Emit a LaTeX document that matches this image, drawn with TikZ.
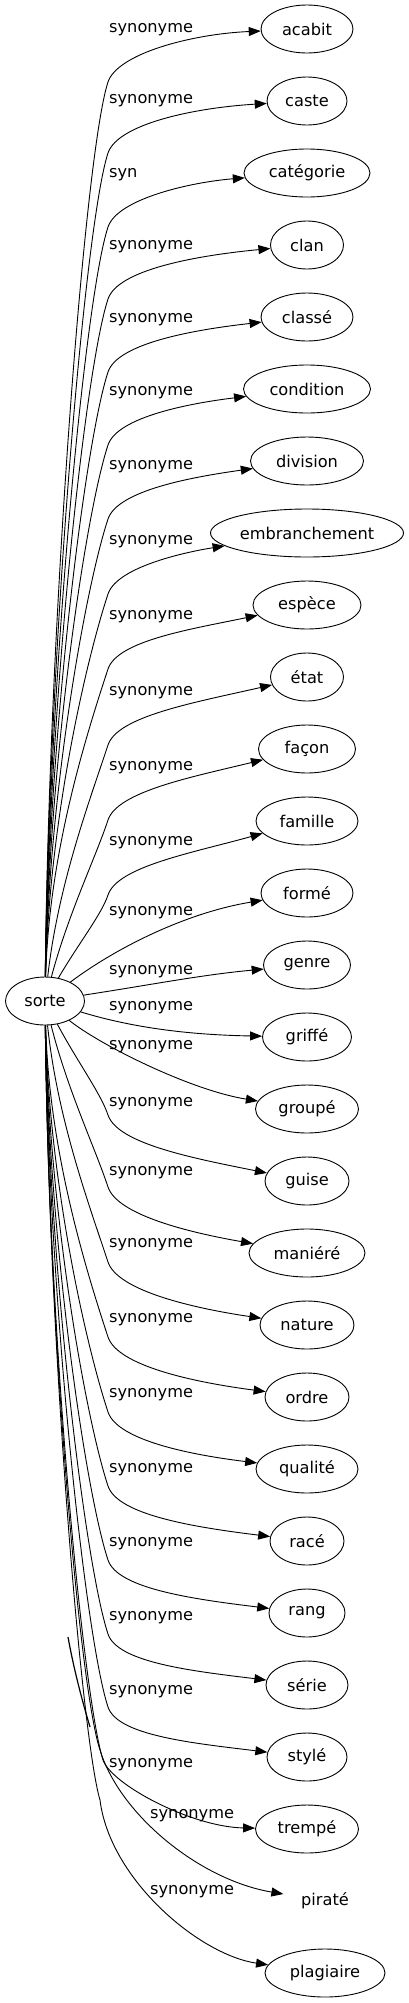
\documentclass[tikz,border=0pt]{standalone}
\usepackage{fontspec}
\setmainfont{DejaVu Sans}
\usetikzlibrary{shapes.geometric,arrows.meta}

\tikzset{
    term/.style={draw, ellipse, line width=0.9pt, minimum height=48pt, inner sep=0pt},
    tag/.style={anchor=west, inner sep=0pt},
    rel/.style={-{Triangle[length=12pt,width=9pt]}, line width=0.9pt}
}

\begin{document}
\begin{tikzpicture}[x=1pt, y=-1pt, font=\fontsize{16.2}{19}\selectfont]
    \useasboundingbox (0,0) rectangle (409,2003);

    % Source word
    \node[term, minimum width=79pt] (sorte) at (45,1001) {sorte};

    % Synonyms above the source
    \foreach \n/\txt/\w/\ly/\dc/\lab [count=\i from 0] in {
        acabit/acabit/92/30/5/synonyme, caste/caste/80/101/7/synonyme,
        categorie/catégorie/126/175/9/syn, clan/clan/73/247/11/synonyme,
        classe/classé/92/320/13/synonyme, condition/condition/127/393/14/synonyme,
        division/division/113/467/16/synonyme, embranchement/embranchement/193/542/18/synonyme,
        espece/espèce/108/617/24/synonyme, etat/état/73/693/26/synonyme,
        facon/façon/97/768/28/synonyme, famille/famille/102/843/32/synonyme}{
        \node[term, minimum width=\w pt] (\n) at (307,{29+72*\i}) {\txt};
        \node[tag] (lab-\n) at (109,\ly) {\lab};
        \pgfmathsetmacro\bendy{\ly+52}
        \pgfmathsetmacro\rise{977-\bendy}
        \pgfmathsetmacro\kfac{min(1,\rise/300)}
        \draw[rel] (sorte) .. controls +({4+40*(1-\kfac)},{-(24+0.4*\rise)}) and +({-23*\kfac},{70*\kfac}) .. (108,\bendy)
            .. controls +(9.5,-28.5) and +(-115,\dc) .. (\n);
    }

    % Synonyms level with the source
    \node[term, minimum width=92pt] (forme) at (307,893) {formé};
    \node[term, minimum width=87pt] (genre) at (307,965) {genre};
    \node[term, minimum width=89pt] (griffe) at (307,1037) {griffé};
    \node[term, minimum width=103pt] (groupe) at (307,1109) {groupé};
    \node[tag] (lab-forme) at (109,913) {synonyme};
    \node[tag] (lab-genre) at (109,972) {synonyme};
    \node[tag] (lab-griffe) at (109,1008) {synonyme};
    \node[tag] (lab-groupe) at (109,1047) {synonyme};
    \draw[rel] (sorte) .. controls (120,945) and (190,912) .. (forme);
    \draw[rel] (sorte) .. controls (150,985) and (200,975) .. (genre);
    \draw[rel] (sorte) .. controls (140,1030) and (200,1035) .. (griffe);
    \draw[rel] (sorte) .. controls (100,1045) and (190,1090) .. (groupe);

    % Synonyms below the source
    \foreach \n/\txt/\w/\bendy/\dc/\ly [count=\i from 16] in {
        guise/guise/84/1115/23/1104, maniere/maniéré/116/1187/20/1173,
        nature/nature/94/1262/17/1245, ordre/ordre/84/1337/15/1320,
        qualite/qualité/102/1412/14/1395, race/racé/74/1486/14/1470,
        rang/rang/76/1560/14/1544, serie/série/82/1634/14/1618,
        style/stylé/80/1707/14/1692}{
        \node[term, minimum width=\w pt] (\n) at (307,{29+72*\i}) {\txt};
        \node[tag] (lab-\n) at (109,\ly) {synonyme};
        \pgfmathsetmacro\rise{\bendy-1025}
        \pgfmathsetmacro\kfac{min(1,\rise/300)}
        \draw[rel] (sorte) .. controls +({4+40*(1-\kfac)},{24+0.4*\rise}) and +({-23*\kfac},{-70*\kfac}) .. (108,\bendy)
            .. controls +(9.5,28.5) and +(-115,-\dc) .. (\n);
    }

    % Last three
    \node[term, minimum width=103pt] (trempe) at (307,1829) {trempé};
    \node[term, draw=none, minimum width=86pt] (pirate) at (325,1901) {piraté};
    \node[term, minimum width=120pt] (plagiaire) at (325,1973) {plagiaire};
    \node[tag] (lab-trempe) at (109,1765) {synonyme};
    \node[tag] (lab-pirate) at (150,1816) {synonyme};
    \node[tag] (lab-plagiaire) at (150,1892) {synonyme};
    \draw[rel] (sorte) .. controls (49,1350) and (84,1700) .. (103,1760)
        .. controls (112,1785) and (192,1827) .. (trempe);
    \draw[rel] (sorte) .. controls (49,1340) and (80,1690) .. (100,1750)
        .. controls (120,1815) and (200,1880) .. (pirate);
    \draw[rel] (sorte) .. controls (49,1350) and (82,1740) .. (100,1800)
        .. controls (110,1880) and (200,1955) .. (plagiaire);

    % Loose stroke
    \coordinate (stray-a) at (68,1637);
    \coordinate (stray-b) at (90,1727);
    \draw[line width=1.2pt] (stray-a) .. controls (74,1670) and (82,1700) .. (stray-b);
\end{tikzpicture}
\end{document}
